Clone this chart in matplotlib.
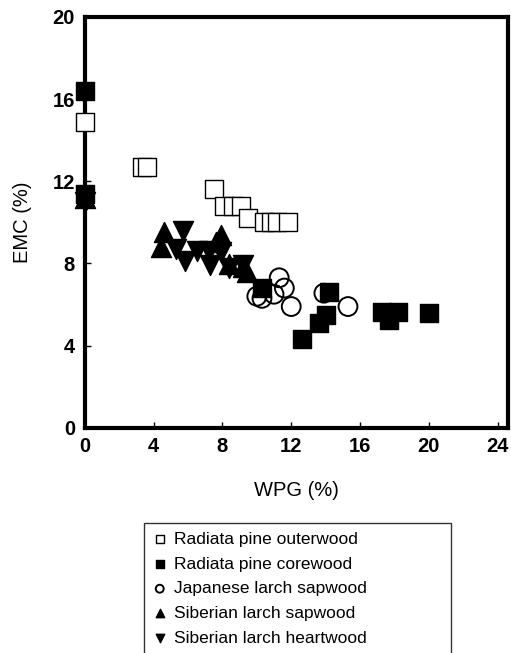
import numpy as np
import matplotlib.pyplot as plt

plt.rcParams['font.family'] = ['Liberation Sans', 'DejaVu Sans']

# Radiata pine outerwood
rpo_x = [0, 3.3, 3.6, 7.5, 8.1, 8.6, 9.1, 9.5, 10.4, 10.8, 11.2, 11.8]
rpo_y = [14.9, 12.7, 12.7, 11.6, 10.8, 10.8, 10.8, 10.2, 10.0, 10.0, 10.0, 10.0]

# Radiata pine corewood
rpc_x = [0, 0, 10.3, 14.2, 14.0, 13.6, 12.6, 17.3, 18.2, 17.7, 20.0]
rpc_y = [16.4, 11.4, 6.8, 6.6, 5.5, 5.1, 4.3, 5.65, 5.65, 5.25, 5.6]

# Japanese larch sapwood
jls_x = [10.0, 10.3, 11.0, 11.3, 11.6, 12.0, 13.9, 15.3]
jls_y = [6.4, 6.3, 6.5, 7.3, 6.8, 5.9, 6.55, 5.9]

# Siberian larch sapwood
sls_x = [0, 4.6, 4.4, 7.9, 7.6, 8.4, 9.2, 9.4]
sls_y = [11.2, 9.55, 8.8, 9.4, 9.05, 7.95, 7.85, 7.6]

# Siberian larch heartwood
slh_x = [0, 5.7, 5.3, 5.8, 6.5, 7.2, 7.9, 7.3, 8.4, 9.2]
slh_y = [11.0, 9.6, 8.7, 8.1, 8.6, 8.6, 8.55, 7.9, 7.8, 7.9]

labels = ['Radiata pine outerwood', 'Radiata pine corewood',
          'Japanese larch sapwood', 'Siberian larch sapwood',
          'Siberian larch heartwood']

fig = plt.figure(figsize=(5.11, 6.53), dpi=100)
ax = fig.add_axes([0.166, 0.345, 0.828, 0.629])

ms = 160
kw = dict(zorder=3, clip_on=False)
ax.scatter(rpo_x, rpo_y, s=ms, marker='s', facecolors='white', edgecolors='black',
           linewidths=1.0, label=labels[0], **kw)
ax.scatter(rpc_x, rpc_y, s=ms, marker='s', color='black', label=labels[1], **kw)
ax.scatter(jls_x, jls_y, s=ms * 1.15, marker='o', facecolors='none', edgecolors='black',
           linewidths=1.4, label=labels[2], **kw)
ax.scatter(sls_x, sls_y, s=ms * 1.3, marker='^', color='black', label=labels[3], **kw)
ax.scatter(slh_x, slh_y, s=ms * 1.3, marker='v', color='black', label=labels[4], **kw)

ax.set_xlim(0, 24.6)
ax.set_ylim(0, 20)
ax.set_xticks([0, 4, 8, 12, 16, 20, 24])
ax.set_yticks([0, 4, 8, 12, 16, 20])
for sp in ax.spines.values():
    sp.set_linewidth(3)
ax.tick_params(direction='in', length=4, width=1, labelsize=14.5, pad=7)
for t in ax.get_xticklabels() + ax.get_yticklabels():
    t.set_fontweight('bold')

ax.set_xlabel('WPG (%)', fontsize=14.5, labelpad=18)
ax.set_ylabel('EMC (%)', fontsize=14.5, labelpad=15)

leg = fig.legend(loc='upper left', bbox_to_anchor=(0.282, 0.0, 0.601, 0.199),
                 mode='expand', fontsize=12.5,
                 markerscale=0.42, frameon=True, fancybox=False, edgecolor='black',
                 handletextpad=0.4, handlelength=0.8, labelspacing=0.55,
                 borderaxespad=0, borderpad=0.5)
leg.get_frame().set_linewidth(1.0)

fig.savefig('out.png', dpi=100)
